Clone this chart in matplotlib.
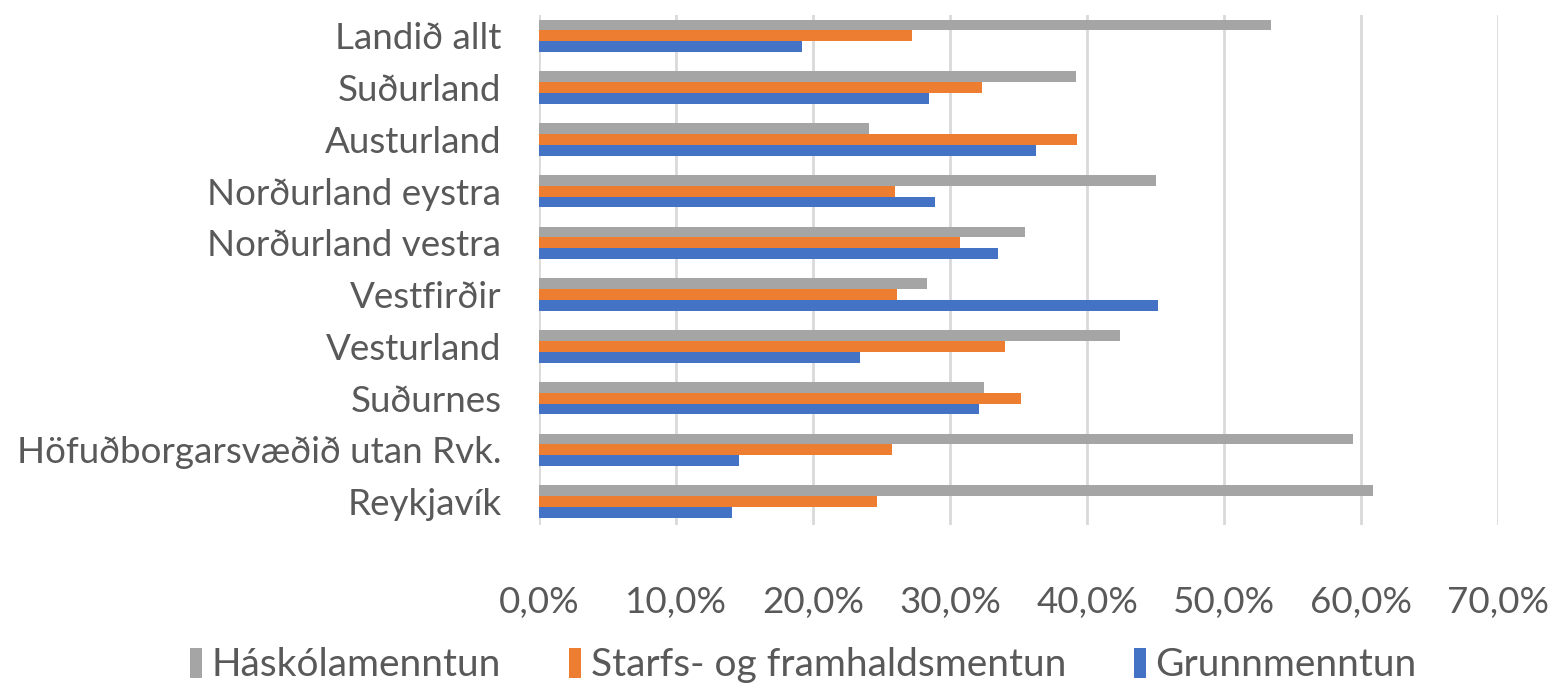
import matplotlib.pyplot as plt
import numpy as np
from matplotlib.ticker import FuncFormatter

# Gögn (lesin af myndinni)
regions = ['Landið allt', 'Suðurland', 'Austurland', 'Norðurland eystra',
           'Norðurland vestra', 'Vestfirðir', 'Vesturland', 'Suðurnes',
           'Höfuðborgarsvæðið utan Rvk.', 'Reykjavík']
haskoli = [53.4, 39.2, 24.1, 45.0, 35.5, 28.3, 42.4, 32.5, 59.4, 60.9]
starfs = [27.2, 32.3, 39.3, 26.0, 30.7, 26.1, 34.0, 35.2, 25.8, 24.7]
grunn = [19.2, 28.5, 36.3, 28.9, 33.5, 45.2, 23.4, 32.1, 14.6, 14.1]

series_names = ['Háskólamenntun', 'Starfs- og framhaldsmentun', 'Grunnmenntun']
colors = ['#A5A5A5', '#ED7D31', '#4472C4']

plt.rcParams['font.family'] = ['Lato', 'DejaVu Sans']
txt = '#595959'

fig = plt.figure(figsize=(15.53, 6.88), dpi=100)
ax = fig.add_axes([0.347, 0.237, 0.6177, 0.741])

y = np.arange(len(regions))[::-1]
h = 0.21
for i, (vals, name, c) in enumerate(zip([haskoli, starfs, grunn], series_names, colors)):
    ax.barh(y + h * (1 - i), vals, height=h, color=c, label=name, zorder=3)

ax.set_xlim(0, 70)
ax.set_ylim(-0.45, len(regions) - 0.6)
ax.set_xticks(np.arange(0, 71, 10))
ax.xaxis.set_major_formatter(FuncFormatter(lambda v, p: f'{v:.1f}%'.replace('.', ',')))
ax.set_yticks(y)
ax.set_yticklabels(regions)
ax.tick_params(axis='both', length=0, labelsize=26.5, colors=txt)
ax.tick_params(axis='x', pad=44)
ax.tick_params(axis='y', pad=27)
ax.grid(axis='x', color='#D9D9D9', linewidth=2, zorder=0)
for s in ax.spines.values():
    s.set_visible(False)

leg = fig.legend(loc='center', bbox_to_anchor=(0.5174, 0.033), ncol=3, frameon=False,
                 fontsize=28, handlelength=0.3, handleheight=0.8, handletextpad=0.25,
                 columnspacing=1.75)
for t in leg.get_texts():
    t.set_color(txt)

fig.savefig('out.png', dpi=100)
